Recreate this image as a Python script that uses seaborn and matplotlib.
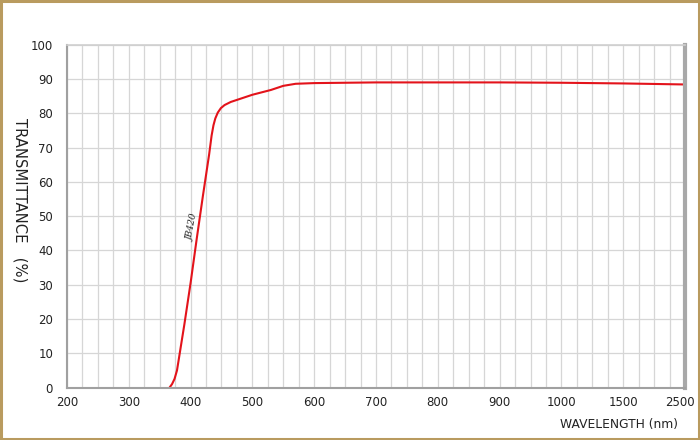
import numpy as np
import pandas as pd
import matplotlib
matplotlib.use("Agg")
import matplotlib.pyplot as plt
from matplotlib.patches import Rectangle
from matplotlib.ticker import FixedLocator, NullFormatter
import matplotlib.transforms as mtransforms
import seaborn as sns

# ---- data ----
wavelength = [366, 370, 374, 378, 390, 400, 410, 420, 430, 434, 437, 440, 444, 449,
              455, 465, 475, 490, 500, 530, 550, 570, 600, 700, 800, 900, 1000, 1500, 2500]
transmittance = [0.0, 1.0, 2.5, 5.0, 18.5, 30.5, 43.5, 56.0, 68.0, 73.5, 76.5, 78.5,
                 80.2, 81.5, 82.4, 83.3, 83.9, 84.8, 85.4, 86.8, 88.0, 88.6, 88.8,
                 89.0, 89.0, 89.0, 88.9, 88.7, 88.4]
x_ticks = [200, 300, 400, 500, 600, 700, 800, 900, 1000, 1500, 2500]
y_ticks = [0, 10, 20, 30, 40, 50, 60, 70, 80, 90, 100]
curve_label = "JB420"

# piecewise-linear wavelength axis (200..1000 linear, then 1500, 2500)
brk_w = [200, 1000, 1500, 2500]
brk_p = [0, 8, 9, 10]
def fwd(v):
    return np.interp(v, brk_w, brk_p)
def inv(v):
    return np.interp(v, brk_p, brk_w)

df = pd.DataFrame({"wavelength": wavelength, "T": transmittance})

sns.set_theme(style="white")
plt.rcParams["font.family"] = ["DejaVu Sans"]

fig = plt.figure(figsize=(7, 4.4), dpi=100)
ax = fig.add_axes([0.0957, 0.1193, 0.8829, 0.7791])
ax.set_xscale("function", functions=(fwd, inv))

sns.lineplot(data=df, x="wavelength", y="T", ax=ax, color="#e3131b", linewidth=1.5)

ax.set_xlim(200, 2500)
ax.set_ylim(0, 100)
ax.xaxis.set_major_locator(FixedLocator(x_ticks))
ax.set_xticklabels([str(t) for t in x_ticks])
minor = list(range(225, 1000, 25)) + list(range(1125, 1500, 125)) + list(range(1750, 2500, 250))
ax.xaxis.set_minor_locator(FixedLocator(minor))
ax.xaxis.set_minor_formatter(NullFormatter())
ax.set_yticks(y_ticks)
ax.set_yticklabels([str(t) for t in y_ticks])

ax.grid(True, which="both", axis="x", color="#d6d6d6", linewidth=0.9)
ax.grid(True, which="major", axis="y", color="#d6d6d6", linewidth=0.9)
ax.set_axisbelow(True)

ax.tick_params(axis="both", which="both", length=0, labelsize=8.5, colors="#222222")
ax.tick_params(axis="x", pad=6)
ax.tick_params(axis="y", pad=10)

# nudge the last x label ("2500") slightly left, as in the reference
last = ax.get_xticklabels()[-1]
last.set_transform(last.get_transform() + mtransforms.ScaledTranslation(-5 / 100, 0, fig.dpi_scale_trans))

for s in ["left", "bottom"]:
    ax.spines[s].set_color("#a0a0a0")
    ax.spines[s].set_linewidth(1.5)
ax.spines["top"].set_color("#cfcfcf")
ax.spines["top"].set_linewidth(1.2)
ax.spines["right"].set_color("#a8a8a8")
ax.spines["right"].set_linewidth(3)

ax.set_xlabel("")
ax.set_ylabel("")
fig.text(0.969, 0.036, "WAVELENGTH (nm)", ha="right", va="center", fontsize=8.8, color="#222222")
fig.text(0.029, 0.732, "TRANSMITTANCE   (%)", ha="center", va="top", rotation=270,
         fontsize=10.6, color="#222222")

ax.text(403, 46.5, curve_label, rotation=79, ha="center", va="center", fontsize=6.5,
        family="DejaVu Serif", style="italic", color="#222222")

fig.patches.append(Rectangle((0.0015, 0.002), 0.997, 0.996, transform=fig.transFigure,
                             fill=False, edgecolor="#b99b5f", linewidth=2.2))

fig.savefig("out.png", dpi=100, facecolor="white")
